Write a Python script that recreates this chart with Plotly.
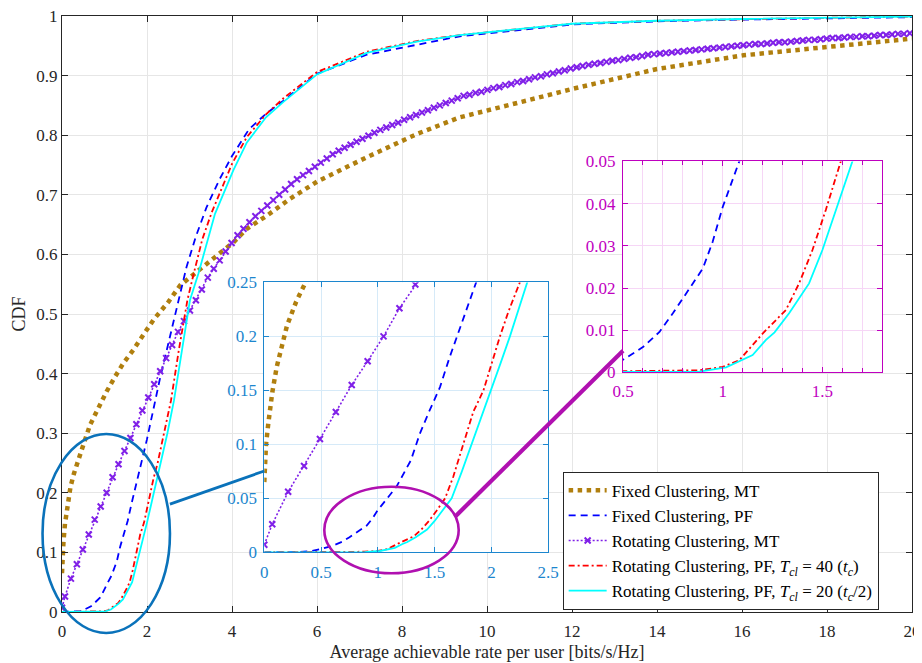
import plotly.graph_objects as go

FONT = "Liberation Serif, Times New Roman, serif"

# ---------------- data ----------------
# Fixed Clustering, MT
fixed_mt_x = [0.0, 0.005, 0.015, 0.035, 0.07, 0.11, 0.15, 0.2, 0.28, 0.37, 0.42, 0.5, 0.66, 0.9,
              1.05, 1.25, 1.44, 1.68, 2.0, 2.15, 2.5, 2.78, 3.09, 3.45, 3.8, 4.03, 4.35, 4.82,
              5.36, 6.0, 7.17, 8.35, 9.36, 10.93, 12.03, 14.0, 16.03, 18.0, 20.0]
fixed_mt_y = [0.065, 0.08, 0.1, 0.119, 0.148, 0.172, 0.19, 0.21, 0.232, 0.25, 0.262, 0.28, 0.314,
              0.349, 0.37, 0.395, 0.417, 0.44, 0.472, 0.49, 0.52, 0.548, 0.566, 0.588, 0.607, 0.62,
              0.643, 0.665, 0.693, 0.722, 0.763, 0.802, 0.83, 0.858, 0.878, 0.911, 0.934, 0.948, 0.962]

# Fixed Clustering, PF
fixed_pf_x = [0.0, 0.3, 0.42, 0.5, 0.6, 0.683, 0.75, 0.817, 0.9, 0.95, 1.0, 1.083, 1.165, 1.29,
              1.37, 1.45, 1.547, 1.63, 1.72, 1.87, 2.0, 2.15, 2.3, 2.5, 2.66, 2.93, 3.15, 3.4,
              3.7, 4.0, 4.4, 4.8, 5.21, 6.0, 7.17, 8.35, 9.36, 12.03, 14.0, 16.0, 18.0, 20.0]
fixed_pf_y = [0.0, 0.0003, 0.0012, 0.003, 0.006, 0.0096, 0.014, 0.0187, 0.0246, 0.031, 0.0392,
              0.05, 0.061, 0.085, 0.11, 0.13, 0.153, 0.18, 0.206, 0.248, 0.29, 0.34, 0.39, 0.45,
              0.498, 0.579, 0.63, 0.679, 0.725, 0.765, 0.81, 0.836, 0.858, 0.903, 0.935, 0.952,
              0.966, 0.986, 0.991, 0.994, 0.996, 0.998]

# Rotating Clustering, MT (sampled points, shown with markers)
rot_mt_first = (0.0, 0.007)
rot_mt_y = [0.026, 0.056, 0.080, 0.105, 0.130, 0.155, 0.177, 0.200, 0.226, 0.248,
            0.270, 0.292, 0.315, 0.338, 0.360, 0.382, 0.404, 0.426, 0.448, 0.470,
            0.488, 0.506, 0.523, 0.541, 0.561, 0.576, 0.590, 0.605, 0.619, 0.632,
            0.643, 0.654, 0.664, 0.673, 0.682, 0.691, 0.700, 0.709, 0.718, 0.726,
            0.733, 0.740, 0.747, 0.754, 0.761, 0.768, 0.774, 0.779, 0.784, 0.789,
            0.794, 0.799, 0.804, 0.809, 0.813, 0.817, 0.821, 0.826, 0.830, 0.834,
            0.838, 0.842, 0.846, 0.850, 0.854, 0.858, 0.862, 0.866, 0.868, 0.871,
            0.873, 0.876, 0.879, 0.881, 0.884, 0.886, 0.889, 0.891, 0.894, 0.897,
            0.899, 0.902, 0.904, 0.907, 0.909, 0.912, 0.914, 0.916, 0.918, 0.920,
            0.921, 0.923, 0.925, 0.926, 0.928, 0.930, 0.931, 0.933, 0.935, 0.936,
            0.937, 0.938, 0.939, 0.940, 0.941, 0.942, 0.943, 0.944, 0.945, 0.946,
            0.947, 0.948, 0.949, 0.950, 0.951, 0.952, 0.953, 0.953, 0.954, 0.955,
            0.956, 0.956, 0.957, 0.958, 0.959, 0.960, 0.960, 0.961, 0.962, 0.963,
            0.963, 0.964, 0.965, 0.965, 0.966, 0.966, 0.967, 0.968, 0.968, 0.969,
            0.970, 0.970, 0.971]
rot_mt_step = 0.14
rot_mt_x = [rot_mt_first[0]] + [round(0.07 + rot_mt_step * k, 2) for k in range(len(rot_mt_y))]
rot_mt_yy = [rot_mt_first[1]] + rot_mt_y

# Rotating Clustering, PF, Tcl = 40
rot_pf40_x = [0.0, 0.5, 0.883, 1.0, 1.083, 1.2, 1.317, 1.383, 1.45, 1.517, 1.592, 1.664, 1.752,
              1.84, 1.93, 2.0, 2.075, 2.15, 2.25, 2.4, 2.565, 2.75, 2.95, 3.09, 3.3, 3.52, 3.75,
              4.0, 4.35, 4.8, 5.21, 6.0, 7.17, 8.35, 9.36, 12.0, 14.0, 16.0, 18.0, 20.0]
rot_pf40_y = [0.0, 0.0002, 0.0005, 0.0013, 0.0029, 0.0092, 0.0148, 0.0211, 0.029, 0.0385, 0.05,
              0.07, 0.1, 0.13, 0.15, 0.174, 0.2, 0.223, 0.25, 0.30, 0.355, 0.44, 0.523, 0.565,
              0.625, 0.67, 0.71, 0.752, 0.797, 0.835, 0.862, 0.906, 0.94, 0.958, 0.968, 0.987,
              0.992, 0.995, 0.997, 0.999]

# Rotating Clustering, PF, Tcl = 20
rot_pf20_x = [0.0, 0.5, 0.883, 1.017, 1.15, 1.217, 1.26, 1.333, 1.433, 1.5, 1.583, 1.65, 1.74,
              1.826, 1.91, 2.0, 2.08, 2.163, 2.24, 2.324, 2.48, 2.635, 2.82, 3.01, 3.21, 3.6,
              4.03, 4.35, 4.8, 5.21, 6.0, 7.17, 8.35, 9.36, 12.0, 14.0, 16.0, 18.0, 20.0]
rot_pf20_y = [0.0, 0.0001, 0.0002, 0.0012, 0.0041, 0.0077, 0.0095, 0.014, 0.0211, 0.029, 0.0408,
              0.05, 0.075, 0.1, 0.125, 0.15, 0.175, 0.2, 0.224, 0.25, 0.30, 0.355, 0.44, 0.523,
              0.568, 0.668, 0.741, 0.788, 0.83, 0.856, 0.902, 0.938, 0.957, 0.968, 0.987, 0.992,
              0.995, 0.997, 0.999]

names = ["Fixed Clustering, MT",
         "Fixed Clustering, PF",
         "Rotating Clustering, MT",
         "Rotating Clustering, PF, <i>T</i><sub><i>cl</i></sub> = 40 (<i>t</i><sub><i>c</i></sub>)",
         "Rotating Clustering, PF, <i>T</i><sub><i>cl</i></sub> = 20 (<i>t</i><sub><i>c</i></sub>/2)"]

main_xticks = list(range(0, 21, 2))
main_xrange = [0, 20]
main_yrange = [0, 1]

# ---------------- styles ----------------
GOLD = "#B07F0E"
PURPLE = "#8020E8"
BLUE = "#0000FF"
RED = "#FF0000"
CYAN = "#00FFFF"
AXC = "#262626"
GRID = "#E6E6E6"
IN1 = "#1C86CE"
IN1_GRID = "#D6EAF8"
IN2 = "#BF00BF"
IN2_GRID = "#F6D6F6"
ELL_BLUE = "#0A72BA"
ELL_MAG = "#B010B0"

series = [
    dict(x=fixed_mt_x, y=fixed_mt_y, mode="lines", line=dict(color=GOLD, width=4.5, dash="dot")),
    dict(x=fixed_pf_x, y=fixed_pf_y, mode="lines", line=dict(color=BLUE, width=1.8, dash="7px,5px")),
    dict(x=rot_mt_x, y=rot_mt_yy, mode="lines+markers",
         line=dict(color=PURPLE, width=1.6, dash="2px,2px"),
         marker=dict(symbol="x-thin-open", size=6, line=dict(color=PURPLE, width=2), color=PURPLE)),
    dict(x=rot_pf40_x, y=rot_pf40_y, mode="lines", line=dict(color=RED, width=1.8, dash="6px,3px,2px,3px")),
    dict(x=rot_pf20_x, y=rot_pf20_y, mode="lines", line=dict(color=CYAN, width=1.8)),
]

fig = go.Figure()
for ai, (xa, ya) in enumerate([("x", "y"), ("x2", "y2"), ("x3", "y3")]):
    for s, nm in zip(series, names):
        fig.add_trace(go.Scatter(name=nm, xaxis=xa, yaxis=ya, showlegend=(ai == 0),
                                 hoverinfo="skip", **s))

in1_dom_x = [0.238, 0.572]
in1_dom_y = [0.1002, 0.553]
in2_dom_x = [0.660, 0.965]
in2_dom_y = [0.402, 0.756]

tickfont = dict(family=FONT, size=17, color=AXC)

def inset_axis(color, grid, **kw):
    d = dict(showline=True, linecolor=color, linewidth=1, mirror="ticks", ticks="inside",
             ticklen=5, tickcolor=color, tickfont=dict(family=FONT, size=17, color=color),
             showgrid=True, gridcolor=grid, gridwidth=1, zeroline=False, automargin=False,
             ticklabeloverflow="allow")
    d.update(kw)
    return d

# the page body adds an 8px offset; margins are set so the plot area lands where the reference has it
fig.update_layout(
    width=922, height=663,
    margin=dict(l=54, r=18, t=8, b=59, autoexpand=False),
    paper_bgcolor="white", plot_bgcolor="white",
    font=dict(family=FONT, size=17, color=AXC),
    xaxis=dict(domain=[0, 1], range=main_xrange, tickvals=main_xticks, ticks="inside", ticklen=6,
               tickcolor=AXC, mirror="ticks", showline=True, linecolor=AXC, linewidth=1,
               showgrid=True, gridcolor=GRID, zeroline=False, tickfont=tickfont,
               ticklabelstandoff=4, automargin=False, ticklabeloverflow="allow",
               title=dict(text="Average achievable rate per user [bits/s/Hz]",
                          font=dict(family=FONT, size=18, color=AXC), standoff=4)),
    yaxis=dict(domain=[0, 1], range=main_yrange, dtick=0.1, tick0=0, ticks="inside", ticklen=6,
               tickcolor=AXC, mirror="ticks", showline=True, linecolor=AXC, linewidth=1,
               showgrid=True, gridcolor=GRID, zeroline=False, tickfont=tickfont,
               ticklabelstandoff=0, automargin=False, ticklabeloverflow="allow",
               title=dict(text="CDF", font=dict(family=FONT, size=18, color=AXC), standoff=6)),
    xaxis2=inset_axis(IN1, IN1_GRID, domain=in1_dom_x, anchor="y2", range=[0, 2.5], dtick=0.5, tick0=0,
                      ticklabelstandoff=4),
    yaxis2=inset_axis(IN1, IN1_GRID, domain=in1_dom_y, anchor="x2", range=[0, 0.25], dtick=0.05, tick0=0,
                      ticklabelstandoff=3),
    xaxis3=inset_axis(IN2, IN2_GRID, domain=in2_dom_x, anchor="y3", range=[0.5, 1.8], dtick=0.5, tick0=0.5,
                      ticklabelstandoff=3,
                      minor=dict(dtick=0.1, tick0=0.5, showgrid=True, gridcolor=IN2_GRID,
                                 ticks="inside", ticklen=4, tickcolor=IN2)),
    yaxis3=inset_axis(IN2, IN2_GRID, domain=in2_dom_y, anchor="x3", range=[0, 0.05], dtick=0.01, tick0=0,
                      ticklabelstandoff=3),
    legend=dict(x=0.589, y=0.2354, xanchor="left", yanchor="top", bgcolor="white",
                bordercolor=AXC, borderwidth=1, font=dict(family=FONT, size=17, color="black"),
                itemwidth=38, tracegroupgap=0, traceorder="normal"),
    showlegend=True,
)

def dom_to_data(dom, rng):
    return [rng[0] + f * (rng[1] - rng[0]) for f in dom]

c1x = dom_to_data(in1_dom_x, main_xrange)
c1y = dom_to_data(in1_dom_y, main_yrange)
c2x = dom_to_data(in2_dom_x, main_xrange)
c2y = dom_to_data(in2_dom_y, main_yrange)

shapes = [
    # white backgrounds behind the insets (hide main grid)
    dict(type="rect", xref="x", yref="y", x0=c1x[0], x1=c1x[1], y0=c1y[0], y1=c1y[1],
         fillcolor="white", line=dict(width=0), layer="between"),
    dict(type="rect", xref="x", yref="y", x0=c2x[0], x1=c2x[1], y0=c2y[0], y1=c2y[1],
         fillcolor="white", line=dict(width=0), layer="between"),
    # blue zoom ellipse and connector
    dict(type="circle", xref="paper", yref="paper", x0=-0.0229, x1=0.127, y0=-0.0352, y1=0.2987,
         line=dict(color=ELL_BLUE, width=2.6), layer="above"),
    dict(type="line", xref="paper", yref="paper", x0=0.127, y0=0.181, x1=in1_dom_x[0], y1=0.2366,
         line=dict(color=ELL_BLUE, width=2.8), layer="above"),
    # magenta zoom ellipse and connector
    dict(type="circle", xref="paper", yref="paper", x0=0.3086, x1=0.4667, y0=0.0649, y1=0.2102,
         line=dict(color=ELL_MAG, width=2.6), layer="above"),
    dict(type="line", xref="paper", yref="paper", x0=0.4624, y0=0.1599, x1=in2_dom_x[0], y1=0.4384,
         line=dict(color=ELL_MAG, width=4.2), layer="above"),
]
fig.update_layout(shapes=shapes)

fig.write_html("out.html")
